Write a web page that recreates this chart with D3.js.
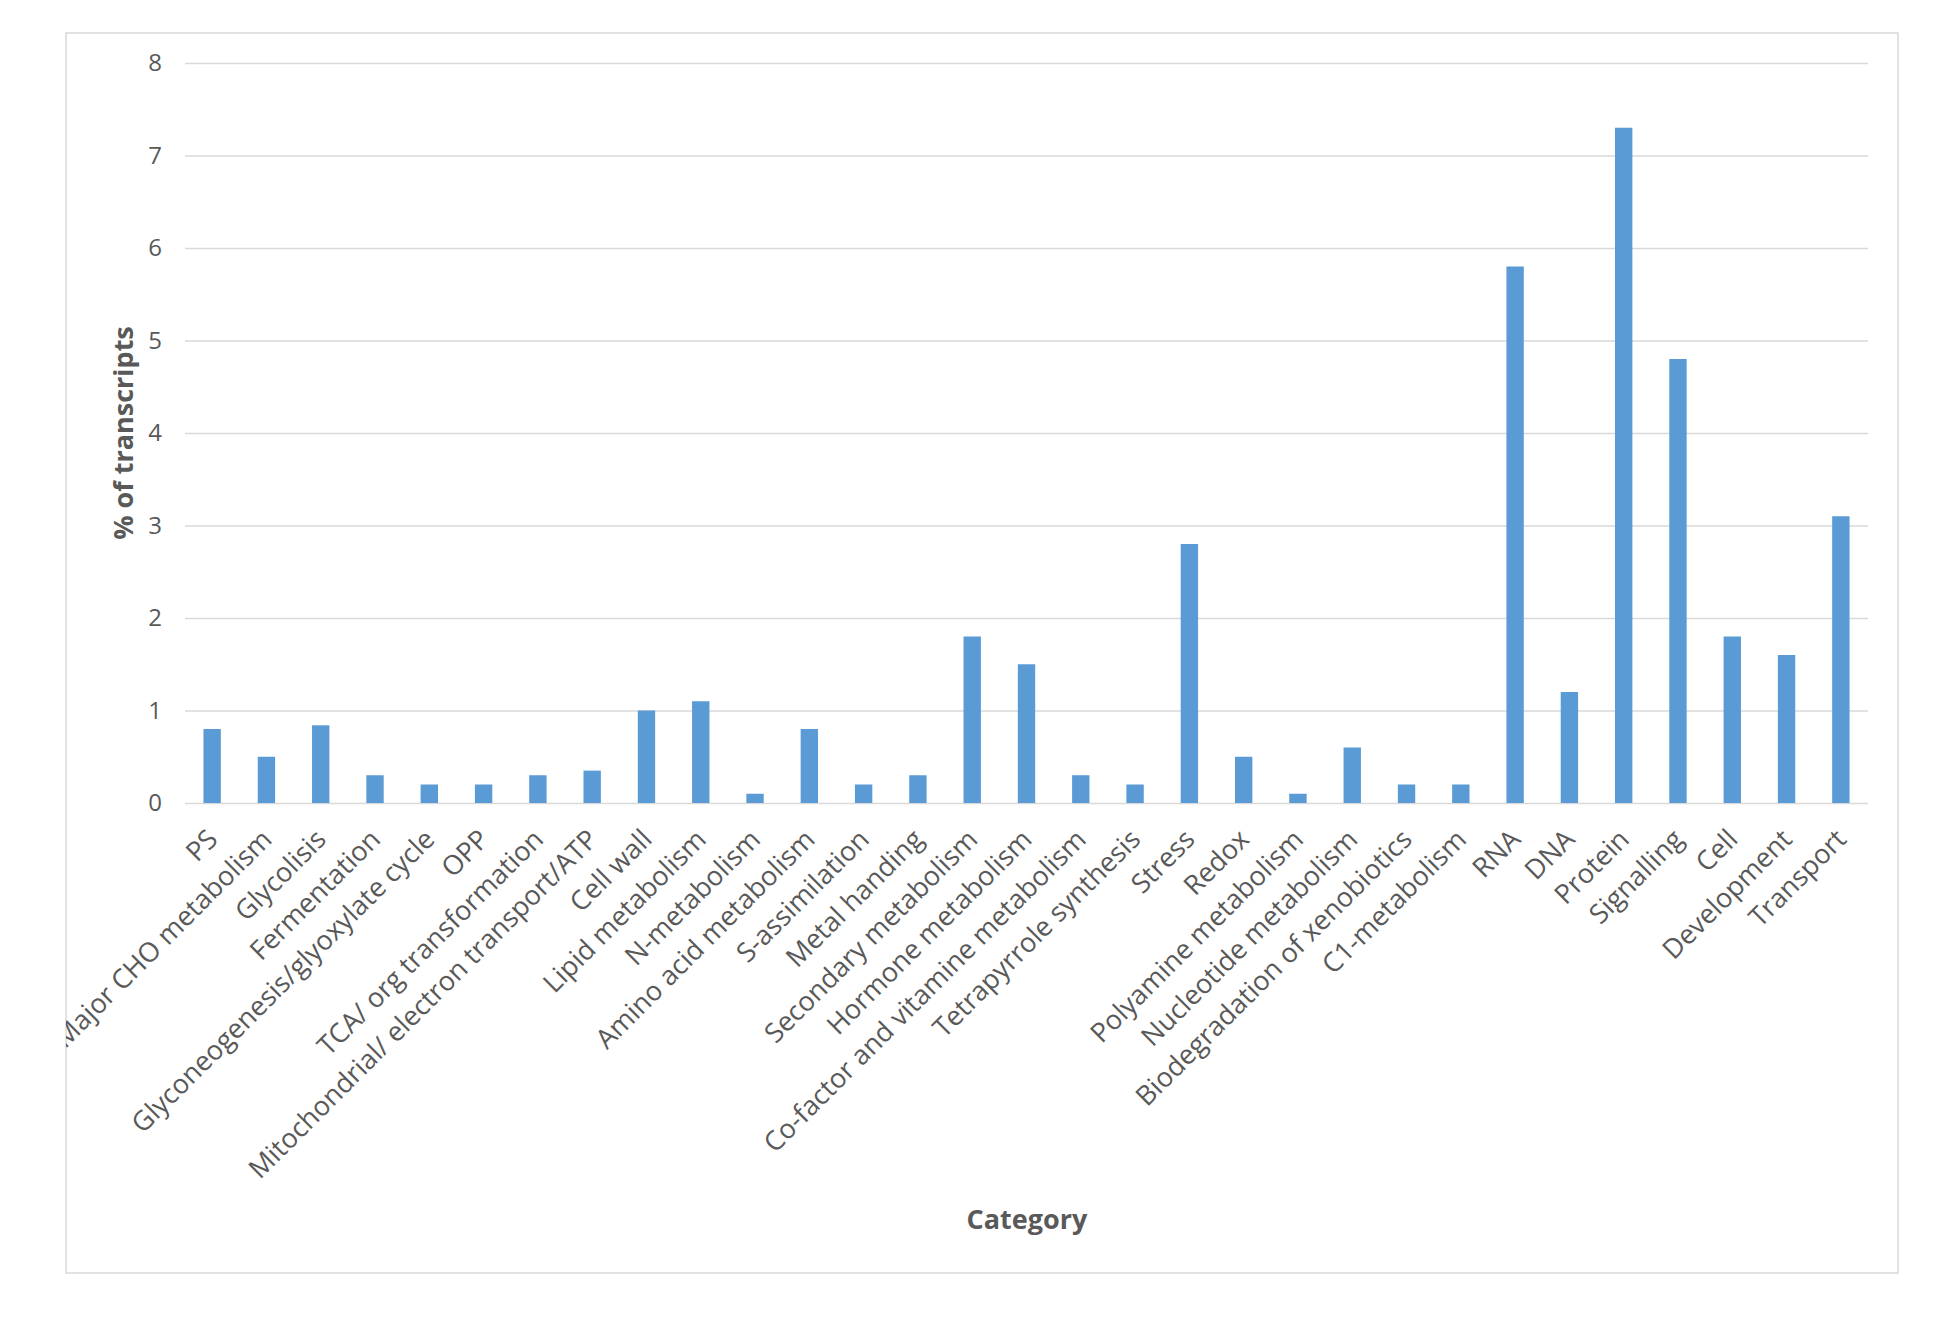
<!DOCTYPE html>
<html>
<head>
<meta charset="utf-8">
<script src="https://cdn.jsdelivr.net/npm/d3@7"></script>
<style>
  body { margin: 0; background: #fff; }
  text { font-family: "Open Sans", sans-serif; fill: #595959; }
</style>
</head>
<body>
<div id="graph"></div>
<script>
// categories and % of transcripts
var categories = ["PS", "Major CHO metabolism", "Glycolisis", "Fermentation",
  "Glyconeogenesis/glyoxylate cycle", "OPP", "TCA/ org transformation",
  "Mitochondrial/ electron transport/ATP", "Cell wall", "Lipid metabolism",
  "N-metabolism", "Amino acid metabolism", "S-assimilation", "Metal handing",
  "Secondary metabolism", "Hormone metabolism", "Co-factor and vitamine metabolism",
  "Tetrapyrrole synthesis", "Stress", "Redox", "Polyamine metabolism",
  "Nucleotide metabolism", "Biodegradation of xenobiotics", "C1-metabolism",
  "RNA", "DNA", "Protein", "Signalling", "Cell", "Development", "Transport"];
var values = [0.8, 0.5, 0.84, 0.3, 0.2, 0.2, 0.3, 0.35, 1.0, 1.1,
  0.1, 0.8, 0.2, 0.3, 1.8, 1.5, 0.3, 0.2, 2.8, 0.5,
  0.1, 0.6, 0.2, 0.2, 5.8, 1.2, 7.3, 4.8, 1.8, 1.6, 3.1];
var yTicks = [0, 1, 2, 3, 4, 5, 6, 7, 8];

var svgWidth = 1953, svgHeight = 1337;
var plot = {left: 185, right: 1868, top: 63, bottom: 803};
var frame = {x0: 66, y0: 33, x1: 1898, y1: 1273};

var svg = d3.select('#graph').append('svg')
  .attr("width", svgWidth)
  .attr("height", svgHeight);

// labels get cut at the chart frame, as in the original
svg.append("defs").append("clipPath")
  .attr("id", "frame-clip")
  .append("rect")
    .attr("x", frame.x0).attr("y", frame.y0)
    .attr("width", frame.x1 - frame.x0).attr("height", frame.y1 - frame.y0);

// chart area border
svg.append("rect")
  .attr("x", frame.x0).attr("y", frame.y0)
  .attr("width", frame.x1 - frame.x0).attr("height", frame.y1 - frame.y0)
  .attr("fill", "#fff")
  .attr("stroke", "#d9d9d9")
  .attr("stroke-width", 1.5);

var x = d3.scaleBand()
  .domain(categories)
  .range([plot.left, plot.right])
  .paddingInner(0.68)
  .paddingOuter(0.34);

var y = d3.scaleLinear()
  .domain([0, 8])
  .range([plot.bottom, plot.top]);

// gridlines + tick labels
var yAxis = svg.append("g")
  .attr("transform", "translate(" + plot.left + ",0)")
  .call(d3.axisLeft(y).tickValues(yTicks).tickSize(-(plot.right - plot.left)).tickPadding(23).tickFormat(d3.format("d")));
yAxis.select(".domain").remove();
yAxis.selectAll(".tick line")
  .attr("stroke", "#d9d9d9")
  .attr("stroke-width", 1.5);
yAxis.selectAll(".tick text")
  .style("font-size", "24px")
  .style("font-family", "Open Sans")
  .attr("fill", "#595959");

// bars
svg.append("g").selectAll("rect")
  .data(values)
  .enter().append("rect")
    .attr("x", function(d, i) { return x(categories[i]); })
    .attr("y", function(d) { return y(d); })
    .attr("width", x.bandwidth())
    .attr("height", function(d) { return y(0) - y(d); })
    .attr("fill", "#5b9bd5");

// category labels, rotated
svg.append("g")
  .attr("clip-path", "url(#frame-clip)")
  .selectAll("text")
  .data(categories)
  .enter().append("text")
    .attr("transform", function(d) {
      return "translate(" + (x(d) + x.bandwidth() / 2 + 7) + "," + (plot.bottom + 38) + ") rotate(-45)";
    })
    .attr("text-anchor", "end")
    .style("font-size", "27px")
    .text(function(d) { return d; });

// axis titles
svg.append("text")
  .attr("transform", "translate(133,433) rotate(-90)")
  .attr("text-anchor", "middle")
  .style("font-size", "27px")
  .style("font-weight", "bold")
  .text("% of transcripts");

svg.append("text")
  .attr("x", 1027)
  .attr("y", 1229)
  .attr("text-anchor", "middle")
  .style("font-size", "27px")
  .style("font-weight", "bold")
  .text("Category");
</script>
</body>
</html>
